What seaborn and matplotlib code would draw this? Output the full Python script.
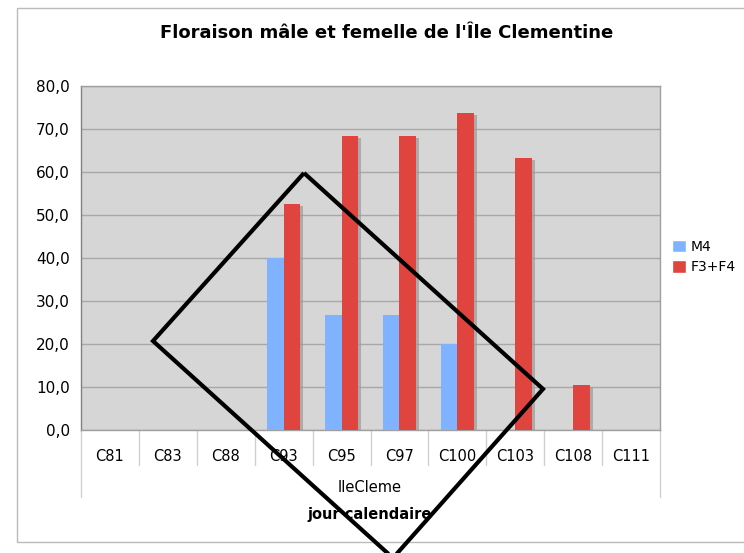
import pandas as pd
import numpy as np
import matplotlib
matplotlib.use('Agg')
import matplotlib.pyplot as plt
import matplotlib.patheffects as pe
from matplotlib.patches import Polygon, Rectangle, Patch
from matplotlib.ticker import FuncFormatter
import seaborn as sns

# donnees
jours = ['C81', 'C83', 'C88', 'C93', 'C95', 'C97', 'C100', 'C103', 'C108', 'C111']
m4 = [0, 0, 0, 40.0, 26.7, 26.7, 20.0, 0, 0, 0]
f3f4 = [0, 0, 0, 52.6, 68.4, 68.4, 73.7, 63.2, 10.5, 0]
series = ['M4', 'F3+F4']
couleurs = ['#7FB2FF', '#E0443F']

data = pd.DataFrame({
    'jour': jours * 2,
    'valeur': m4 + f3f4,
    'serie': [series[0]] * len(jours) + [series[1]] * len(jours),
})

sns.set_style('white')
plt.rcParams['font.family'] = ['DejaVu Sans']
plt.rcParams['text.color'] = 'black'
plt.rcParams['xtick.color'] = 'black'
plt.rcParams['ytick.color'] = 'black'

W, H = 744, 553
fig = plt.figure(figsize=(W / 100, H / 100), dpi=100)
ax = fig.add_axes([81 / W, 1 - 430 / H, 579 / W, 344 / H])

sns.barplot(data=data, x='jour', y='valeur', hue='serie', order=jours,
            hue_order=series, palette=couleurs, width=0.58, saturation=1,
            legend=False, ax=ax, zorder=3)

# ombre des barres
for p in ax.patches:
    p.set_linewidth(0)
    p.set_path_effects([pe.SimplePatchShadow(offset=(2, -1.5), shadow_rgbFace='#9a9a9a', alpha=0.7),
                        pe.Normal()])

ax.set_xlim(-0.5, len(jours) - 0.5)
ax.set_facecolor('#D6D6D6')
ax.set_ylim(0, 80)
ax.set_yticks(np.arange(0, 81, 10))
ax.yaxis.set_major_formatter(FuncFormatter(lambda v, pos: f'{v:.1f}'.replace('.', ',')))
ax.grid(axis='y', color='#A8A8A8', linewidth=1, zorder=0)
ax.set_axisbelow(True)
for s in ax.spines.values():
    s.set_color('#A0A0A0')
    s.set_linewidth(1)
ax.spines['left'].set_color('#808080')
ax.tick_params(axis='y', length=4, color='#808080', labelcolor='black', labelsize=11, pad=4)
ax.tick_params(axis='x', length=0, labelcolor='black', labelsize=10.5, pad=14)
ax.set_xlabel('')
ax.set_ylabel('')

# tableau des categories sous l'axe
tr = ax.get_xaxis_transform()
for i in range(len(jours) - 1):
    ax.plot([i + 0.5, i + 0.5], [0, -0.102], transform=tr, color='#D0D0D0', lw=1, clip_on=False)
for xb in [-0.5, len(jours) - 0.5]:
    ax.plot([xb, xb], [0, -0.195], transform=tr, color='#D0D0D0', lw=1, clip_on=False)

fig.text(370 / W, 1 - 487 / H, 'IleCleme', ha='center', va='center', fontsize=10.5)
fig.text(370 / W, 1 - 515 / H, 'jour calendaire', ha='center', va='center', fontsize=10.5, fontweight='bold')
fig.text(387 / W, 1 - 33 / H, "Floraison mâle et femelle de l'Île Clementine", ha='center', va='center',
         fontsize=13, fontweight='bold')

handles = [Patch(facecolor=c, label=s) for s, c in zip(series, couleurs)]
fig.legend(handles=handles, loc='center left', bbox_to_anchor=(664 / W, 1 - 257 / H), frameon=False,
           fontsize=10, handlelength=1.0, handleheight=1.0, handletextpad=0.3, labelspacing=0.45,
           borderaxespad=0.2)

# cadre exterieur
fig.add_artist(Rectangle((17 / W, 1 - 542 / H), 740 / W, 534 / H, transform=fig.transFigure,
                         fill=False, edgecolor='#BBBBBB', lw=1))

# losange noir par-dessus
pts = [(304, 173), (543, 389), (393, 558), (153, 341)]
fig.add_artist(Polygon([(x / W, 1 - y / H) for x, y in pts], closed=True, fill=False,
                       edgecolor='black', lw=3, joinstyle='miter', transform=fig.transFigure, zorder=10))

fig.savefig('out.png', dpi=100)
